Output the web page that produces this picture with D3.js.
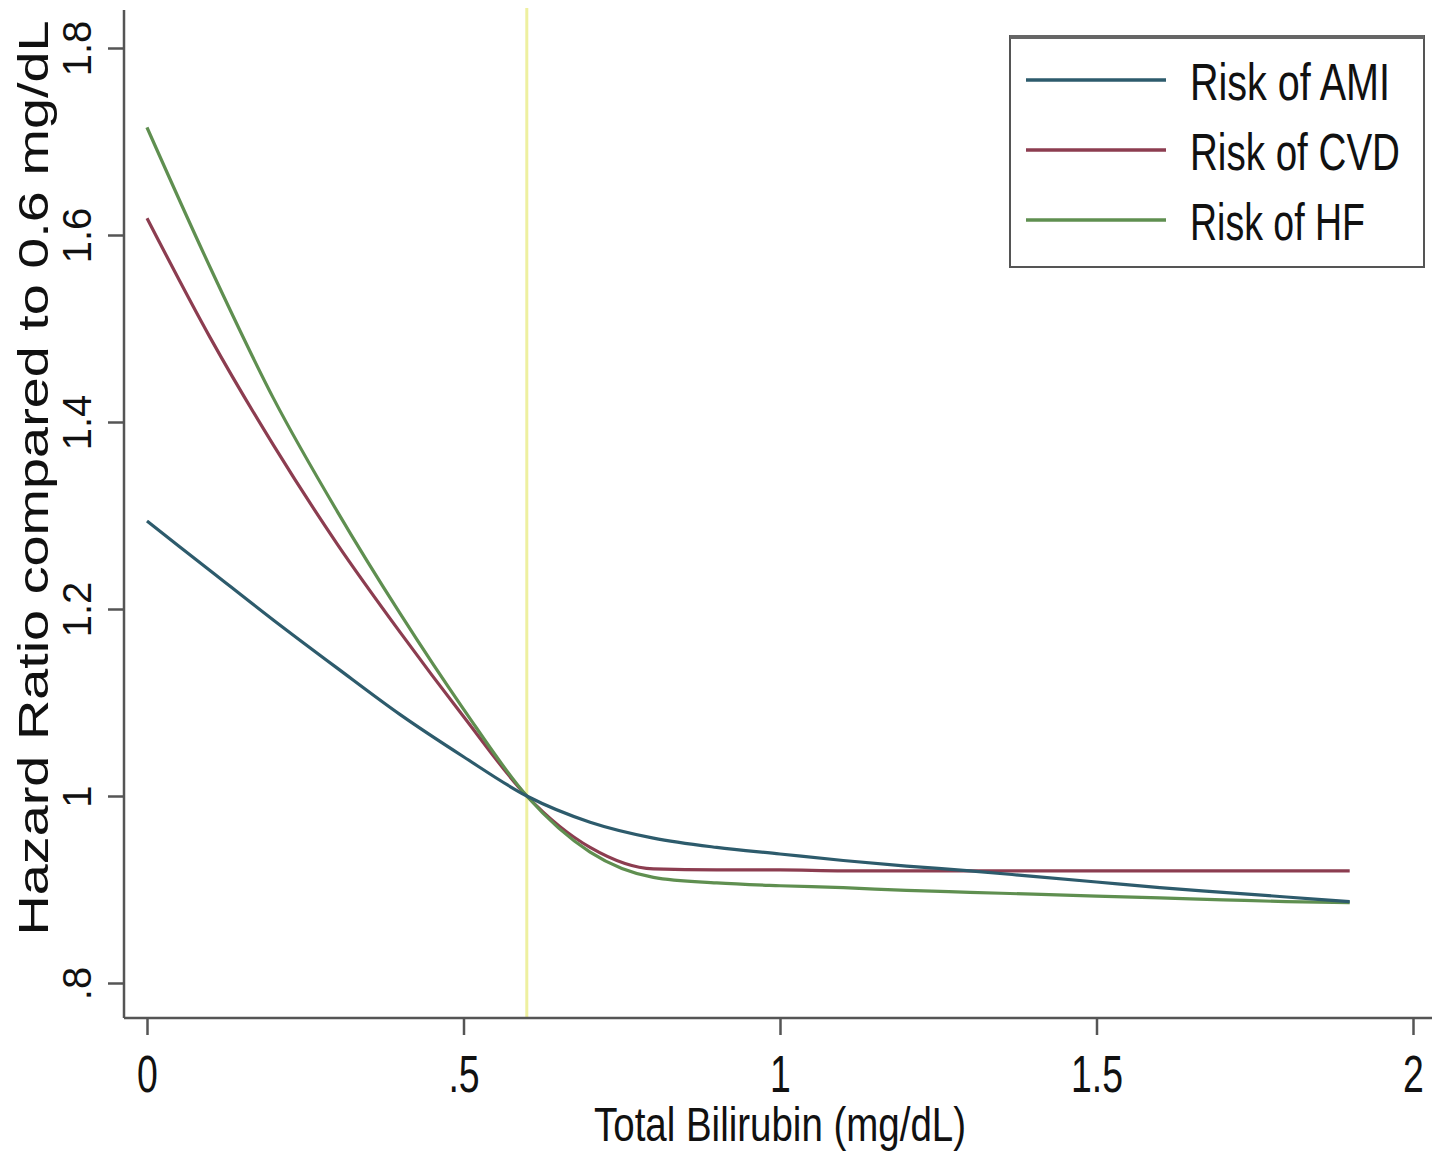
<!DOCTYPE html>
<html>
<head>
<meta charset="utf-8">
<script src="https://cdn.jsdelivr.net/npm/d3@7"></script>
<style>
  body { margin: 0; background: #fff; }
  svg { display: block; }
</style>
</head>
<body>
<svg id="chart"></svg>
<script>
// Bilirubin levels (mg/dL)
const xValues = [0, 0.1, 0.2, 0.3, 0.4, 0.5, 0.6, 0.7, 0.8, 0.9, 1.0, 1.1, 1.2, 1.3, 1.4, 1.5, 1.6, 1.7, 1.8, 1.9];

// hazard ratios
const amiValues = [1.294, 1.241, 1.188, 1.137, 1.087, 1.042, 1.0, 0.972, 0.955, 0.945, 0.938, 0.931, 0.925, 0.92, 0.914, 0.908, 0.902, 0.897, 0.892, 0.887];
const cvdValues = [1.618, 1.49, 1.375, 1.27, 1.175, 1.085, 1.0, 0.945, 0.922, 0.921, 0.921, 0.92, 0.92, 0.92, 0.92, 0.92, 0.92, 0.92, 0.92, 0.92];
const hfValues  = [1.715, 1.565, 1.425, 1.305, 1.195, 1.093, 1.0, 0.94, 0.913, 0.907, 0.904, 0.902, 0.899, 0.897, 0.895, 0.893, 0.891, 0.889, 0.887, 0.886];

const seriesNames = ['Risk of AMI', 'Risk of CVD', 'Risk of HF'];
const seriesColors = ['#2d5b6c', '#8c3d50', '#5f8f50'];
const xTicks = [0, 0.5, 1, 1.5, 2];
const xTickLabels = ['0', '.5', '1', '1.5', '2'];
const yTicks = [0.8, 1.0, 1.2, 1.4, 1.6, 1.8];
const yTickLabels = ['.8', '1', '1.2', '1.4', '1.6', '1.8'];
const refLevel = 0.6;

const W = 1439, H = 1153;
const sans = "'Liberation Sans', Arial, Helvetica, sans-serif";

const svg = d3.select('#chart').attr('width', W).attr('height', H);

const x = d3.scaleLinear().domain([0, 2]).range([147, 1413]);
const y = d3.scaleLinear().domain([0.8, 1.8]).range([983, 48]);

// squeeze text horizontally, the picture uses a narrow face
function condense(sel, factor) {
  sel.each(function () {
    const w = this.getComputedTextLength();
    d3.select(this).attr('textLength', w * factor).attr('lengthAdjust', 'spacingAndGlyphs');
  });
}

// reference line at 0.6 mg/dL
svg.append('line')
  .attr('x1', x(refLevel)).attr('x2', x(refLevel))
  .attr('y1', 8).attr('y2', 1018)
  .attr('stroke', '#eef0a0').attr('stroke-width', 3);

// y axis
const yAxis = svg.append('g')
  .attr('transform', 'translate(124,0)')
  .call(d3.axisLeft(y).tickValues(yTicks).tickSize(16).tickFormat((d, i) => yTickLabels[i]));
yAxis.select('.domain').attr('d', 'M0,10V1018').attr('stroke', '#555').attr('stroke-width', 2.5);
yAxis.selectAll('.tick line').attr('stroke', '#555').attr('stroke-width', 2.5);
yAxis.selectAll('.tick text')
  .attr('font-family', sans).attr('font-size', 40).attr('fill', '#111')
  .attr('text-anchor', 'middle')
  .attr('x', 0).attr('dy', 0)
  .attr('transform', 'translate(-33,0) rotate(-90)');

// x axis
const xAxis = svg.append('g')
  .attr('transform', 'translate(0,1018)')
  .call(d3.axisBottom(x).tickValues(xTicks).tickSize(17).tickFormat((d, i) => xTickLabels[i]));
xAxis.select('.domain').attr('d', 'M124,0H1432').attr('stroke', '#555').attr('stroke-width', 2.5);
xAxis.selectAll('.tick line').attr('stroke', '#555').attr('stroke-width', 2.5);
xAxis.selectAll('.tick text')
  .attr('font-family', sans).attr('font-size', 52).attr('fill', '#111')
  .attr('y', 74).attr('dy', 0)
  .call(condense, 0.72);

// axis titles
svg.append('text')
  .attr('transform', 'translate(48,478) rotate(-90)')
  .attr('text-anchor', 'middle')
  .attr('font-family', sans).attr('font-size', 42).attr('fill', '#111')
  .attr('textLength', 915).attr('lengthAdjust', 'spacingAndGlyphs')
  .text('Hazard Ratio compared to 0.6 mg/dL');

svg.append('text')
  .attr('x', 780).attr('y', 1141)
  .attr('text-anchor', 'middle')
  .attr('font-family', sans).attr('font-size', 48).attr('fill', '#111')
  .attr('textLength', 372).attr('lengthAdjust', 'spacingAndGlyphs')
  .text('Total Bilirubin (mg/dL)');

// curves
const allSeries = [amiValues, cvdValues, hfValues];
const line = d3.line()
  .x((d, i) => x(xValues[i]))
  .y(d => y(d))
  .curve(d3.curveMonotoneX);

// draw CVD and HF first so the AMI line sits on top where they cross
[1, 2, 0].forEach(k => {
  svg.append('path')
    .datum(allSeries[k])
    .attr('fill', 'none')
    .attr('stroke', seriesColors[k])
    .attr('stroke-width', 3.2)
    .attr('stroke-linejoin', 'round')
    .attr('d', line);
});

// legend
const legendWidths = [200, 210, 175];
const legend = svg.append('g');
legend.append('rect')
  .attr('x', 1010).attr('y', 36).attr('width', 414).attr('height', 231)
  .attr('fill', '#fff').attr('stroke', '#555').attr('stroke-width', 2);
legend.append('line')
  .attr('x1', 1010).attr('x2', 1424).attr('y1', 37).attr('y2', 37)
  .attr('stroke', '#666').attr('stroke-width', 4);

seriesNames.forEach((name, i) => {
  const ly = 80 + i * 70;
  legend.append('line')
    .attr('x1', 1026).attr('x2', 1166).attr('y1', ly).attr('y2', ly)
    .attr('stroke', seriesColors[i]).attr('stroke-width', 3.5);
  const t = legend.append('text')
    .attr('font-family', sans).attr('font-size', 52).attr('fill', '#111')
    .text(name);
  // scale the glyphs instead of textLength so the box stays inside the page
  const sx = legendWidths[i] / t.node().getComputedTextLength();
  t.attr('transform', `translate(1190,${ly + 20}) scale(${sx},1)`);
});
</script>
</body>
</html>
